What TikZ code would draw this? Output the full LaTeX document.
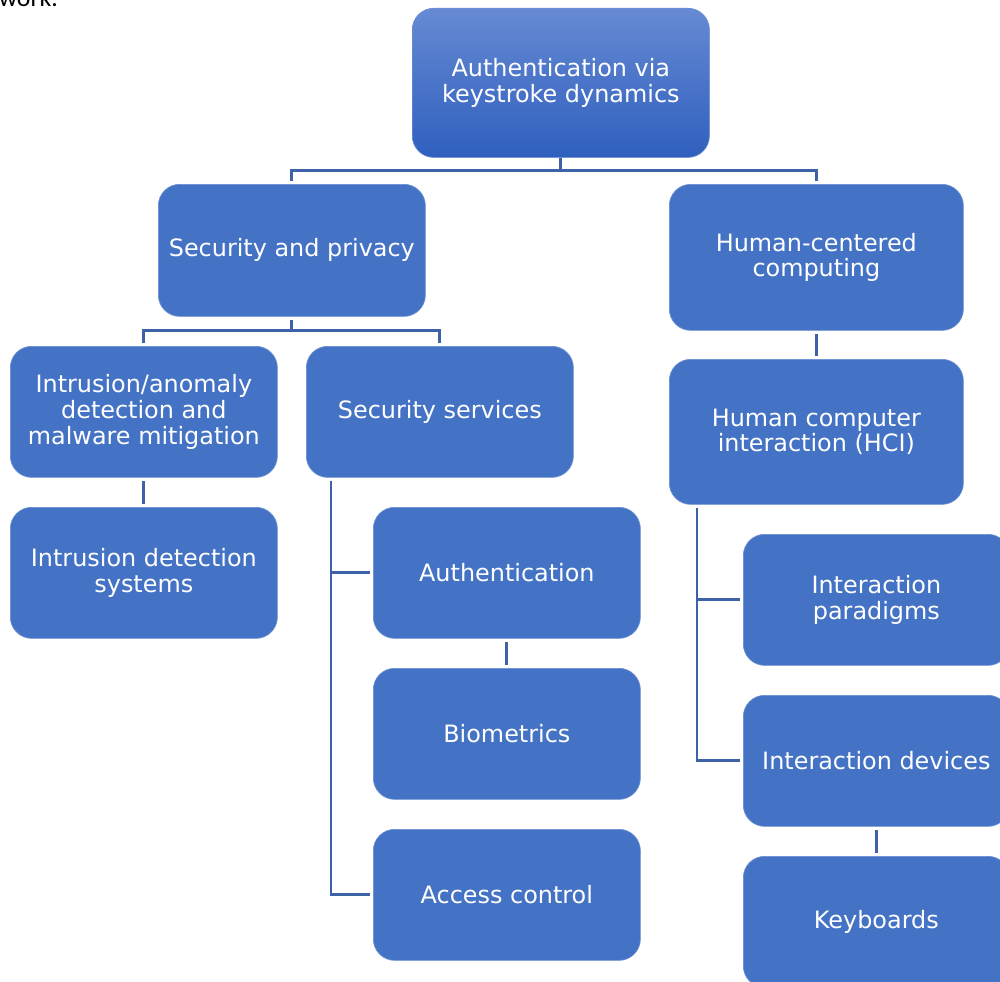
\documentclass[tikz,border=0pt]{standalone}
\usepackage{fontspec}
\setmainfont{DejaVu Sans}
\newfontfamily\bodyfont{Carlito}
\usetikzlibrary{calc}
\definecolor{boxfill}{HTML}{4472C4}
\definecolor{boxedge}{HTML}{6A8ED3}
\definecolor{wirecol}{HTML}{3D62A8}
\definecolor{topA}{HTML}{668AD3}
\definecolor{topB}{HTML}{2F5FBE}
\begin{document}
\begin{tikzpicture}[x=0.03cm,y=-0.03cm,
  box/.style={draw=boxedge, line width=0.6pt, fill=boxfill,
    rounded corners=0.64cm, text=white, align=center, anchor=north west,
    font=\fontsize{20.4}{22.1}\selectfont, inner sep=0pt},
  bw/.style={minimum width={#1*0.03cm}},
  bh/.style={minimum height={#1*0.03cm}},
  wire/.style={draw=wirecol, line width=2.5pt},
  gap/.style={shorten >=0.08cm},
  gaps/.style={shorten >=0.09cm, shorten <=0.11cm}]
\useasboundingbox (0,0) rectangle (1000,982);

% running text of the page above the chart
\node[anchor=base east, font=\bodyfont\fontsize{22}{26}\selectfont, inner sep=0pt] (prev) at (58,7) {work.};

% root
\node[box, bw=297, bh=149, top color=topA, bottom color=topB, draw=boxedge]
  (root) at (412,8) {Authentication via\\keystroke dynamics};

% second level
\node[box, bw=267, bh=132] (sp) at (158,184) {Security and privacy};
\node[box, bw=294, bh=146] (hc) at (669,184) {Human-centered\\computing};

% third level
\node[box, bw=267, bh=131] (ia) at (10,346) {Intrusion/anomaly\\detection and\\malware mitigation};
\node[box, bw=267, bh=131] (ss) at (306,346) {Security services};
\node[box, bw=294, bh=145] (hci) at (669,359) {Human computer\\interaction (HCI)};

% leaves
\node[box, bw=267, bh=131] (ids) at (10,507) {Intrusion detection\\systems};
\node[box, bw=267, bh=131] (au) at (373,507) {Authentication};
\node[box, bw=267, bh=131] (bio) at (373,668) {Biometrics};
\node[box, bw=267, bh=131] (ac) at (373,829) {Access control};
\node[box, bw=266, bh=131] (ip) at (743,534) {Interaction\\paradigms};
\node[box, bw=266, bh=131] (id) at (743,695) {Interaction devices};
\node[box, bw=266, bh=131] (kb) at (743,856) {Keyboards};

% connectors
\draw[wire, gap] (root.south) -- ++(0,13) -| (sp.north);
\draw[wire, gap] (root.south) -- ++(0,13) -| (hc.north);
\draw[wire, gaps] (sp.south) -- ++(0,14) -| (ia.north);
\draw[wire, gaps] (sp.south) -- ++(0,14) -| (ss.north);
\draw[wire, gaps] (hc.south) -- (hci.north);
\draw[wire, gaps] (ia.south) -- (ids.north);
\draw[wire, gaps] (au.south) -- (bio.north);
\draw[wire, gaps] (id.south) -- (kb.north);
\draw[wire, gap] ($(ss.south west)+(25,3)$) |- (au.west);
\draw[wire, gap] ($(ss.south west)+(25,3)$) |- (ac.west);
\draw[wire, gap] ($(hci.south west)+(28,3)$) |- (ip.west);
\draw[wire, gap] ($(hci.south west)+(28,3)$) |- (id.west);
\end{tikzpicture}
\end{document}
